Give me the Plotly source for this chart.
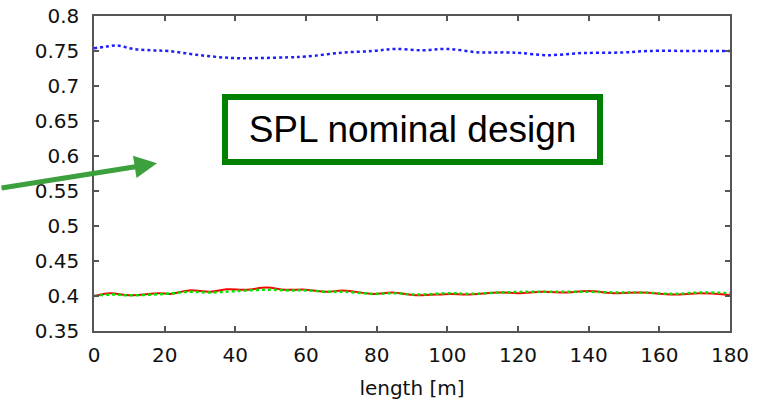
import plotly.graph_objects as go

# ---- data ----
blue_x = [0, 3, 6.5, 11, 16, 21, 30, 39, 47, 55, 60, 70, 79, 85, 93, 100, 109, 117, 121, 128, 138, 150, 157, 171, 180]
blue_y = [0.754, 0.756, 0.758, 0.753, 0.751, 0.750, 0.744, 0.740, 0.740, 0.741, 0.742, 0.7476, 0.750, 0.753, 0.751,
          0.753, 0.748, 0.748, 0.747, 0.744, 0.747, 0.748, 0.750, 0.750, 0.750]

red_x = [0, 4.5, 10, 18.5, 21.5, 27, 33, 37.5, 43, 49, 54, 60, 66, 70.5, 79, 84.5, 91, 101, 105.5, 115, 120, 127,
         134, 139.5, 148, 155, 164, 171.5, 178.6, 180]
red_y = [0.400, 0.404, 0.401, 0.404, 0.403, 0.408, 0.406, 0.4095, 0.409, 0.412, 0.409, 0.409, 0.406, 0.408, 0.403,
         0.405, 0.401, 0.403, 0.402, 0.405, 0.404, 0.406, 0.405, 0.407, 0.404, 0.405, 0.402, 0.404, 0.402, 0.401]

green_x = [0, 5, 10, 20, 27, 33, 40, 49, 55, 60, 66, 71, 79, 85, 91, 101, 106, 115, 122, 130, 140, 148, 155, 164,
           172, 180]
green_y = [0.400, 0.402, 0.401, 0.403, 0.406, 0.405, 0.407, 0.409, 0.408, 0.408, 0.406, 0.406, 0.403, 0.404, 0.402,
           0.404, 0.403, 0.405, 0.406, 0.406, 0.406, 0.405, 0.405, 0.403, 0.405, 0.404]

x_ticks = [0, 20, 40, 60, 80, 100, 120, 140, 160, 180]
y_ticks = [0.35, 0.4, 0.45, 0.5, 0.55, 0.6, 0.65, 0.7, 0.75, 0.8]
y_tick_labels = ["0.35", "0.4", "0.45", "0.5", "0.55", "0.6", "0.65", "0.7", "0.75", "0.8"]
x_title = "length [m]"
box_text = "SPL nominal design"

fig = go.Figure()
fig.add_trace(go.Scatter(x=blue_x, y=blue_y, mode="lines",
                         line=dict(color="rgb(30,30,255)", width=2.5, dash="dot", shape="spline"),
                         showlegend=False))
fig.add_trace(go.Scatter(x=red_x, y=red_y, mode="lines",
                         line=dict(color="rgb(255,0,0)", width=2, shape="spline"),
                         showlegend=False))
fig.add_trace(go.Scatter(x=green_x, y=green_y, mode="lines",
                         line=dict(color="rgb(0,230,0)", width=2.5, dash="dot", shape="spline"),
                         showlegend=False))

axis_common = dict(showline=True, linecolor="#555555", linewidth=1.5, mirror="ticks",
                   ticks="inside", ticklen=5, tickcolor="#555555", tickwidth=1.5,
                   showgrid=False, zeroline=False, automargin=False,
                   tickfont=dict(family="DejaVu Sans", size=20, color="#111111"))

fig.update_xaxes(range=[0, 180], tickvals=x_ticks, ticklabelstandoff=5, **axis_common,
                 title=dict(text=x_title, font=dict(family="DejaVu Sans", size=20, color="#111111")))
fig.update_yaxes(range=[0.35, 0.8], tickvals=y_ticks, ticktext=y_tick_labels, ticklabelstandoff=9,
                 **axis_common)

# text box
fig.add_annotation(x=0.501, y=0.64, xref="paper", yref="paper", text=box_text, showarrow=False,
                   font=dict(family="Liberation Sans", size=37, color="black"),
                   bordercolor="rgb(0,128,0)", borderwidth=6, borderpad=0, bgcolor="white",
                   width=369, height=59, xanchor="center", yanchor="middle", align="center")

# arrow
fig.add_annotation(x=(157 - 94) / 636, y=(331 - 163.3) / 315, xref="paper", yref="paper", text="",
                   showarrow=True, ax=-157, ay=25, axref="pixel", ayref="pixel",
                   arrowhead=2, arrowsize=0.9, arrowwidth=5, arrowcolor="rgb(60,160,60)", standoff=0)

fig.update_layout(width=774, height=401, margin=dict(l=94, r=44, t=16, b=70),
                  paper_bgcolor="white", plot_bgcolor="white")

fig.write_html("out.html")
